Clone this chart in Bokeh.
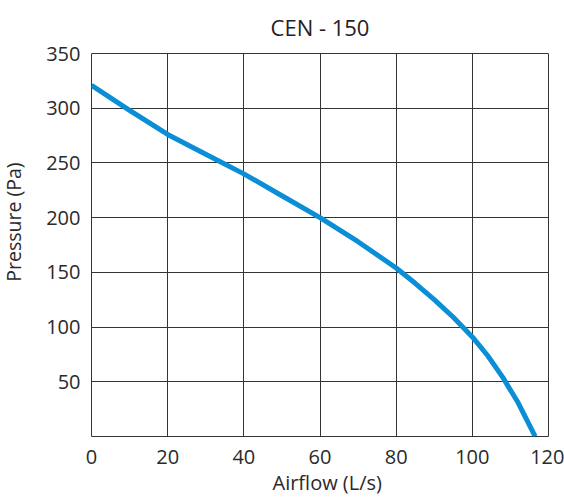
from bokeh.plotting import figure
from bokeh.models import Range1d, FixedTicker, Title
from bokeh.embed import file_html
from bokeh.resources import INLINE

title_text = "CEN - 150"
x_label = "Airflow (L/s)"
y_label = "Pressure (Pa)"
x_ticks = [0, 20, 40, 60, 80, 100, 120]
y_ticks = [50, 100, 150, 200, 250, 300, 350]

airflow = [0, 10, 20, 30, 40, 50, 60, 70, 80, 85, 90, 95, 100, 104, 108, 112, 116.5]
pressure = [321, 298, 276, 258, 240, 220, 200, 178, 154, 140, 125, 109, 91, 74, 54, 31, 0]

FONT = "Open Sans"
TXT = "#2a2a2a"

p = figure(width=564, height=499, output_backend="svg", toolbar_location=None,
           x_range=Range1d(0, 120), y_range=Range1d(0, 350),
           min_border_left=91, min_border_right=16, min_border_top=53, min_border_bottom=63)

p.outline_line_color = "#333333"
p.outline_line_width = 1
p.outline_line_alpha = 1

p.xaxis.ticker = FixedTicker(ticks=x_ticks)
p.yaxis.ticker = FixedTicker(ticks=y_ticks)
for ax in (p.xaxis, p.yaxis):
    ax.axis_line_color = None
    ax.major_tick_line_color = None
    ax.minor_tick_line_color = None
    ax.major_tick_in = 0
    ax.major_tick_out = 0
    ax.major_label_text_font = FONT
    ax.major_label_text_font_size = "20px"
    ax.major_label_text_color = TXT
p.xaxis.major_label_standoff = 13
p.yaxis.major_label_standoff = 11

# x axis title below the tick labels
p.add_layout(Title(text=x_label, align="left", offset=181, vertical_align="bottom", standoff=0.5,
                   text_font=FONT, text_font_size="20px", text_font_style="normal",
                   text_color=TXT), "below")

# spacing between the title and the frame
p.add_layout(Title(text=" ", text_font_size="1px", standoff=9), "above")
p.add_layout(Title(text=title_text, align="center", vertical_align="bottom", standoff=0,
                   text_font=FONT, text_font_size="22px", text_font_style="normal",
                   text_color="#222222"), "above")

# spacing between the y tick labels and the y title
p.add_layout(Title(text=" ", text_font_size="1px", standoff=18), "left")
p.add_layout(Title(text=y_label, align="right", offset=109, vertical_align="bottom", standoff=-8,
                   text_font=FONT, text_font_size="19.5px", text_font_style="normal",
                   text_color=TXT), "left")

p.xgrid.grid_line_color = "#333333"
p.ygrid.grid_line_color = "#333333"
p.xgrid.grid_line_alpha = 1
p.ygrid.grid_line_alpha = 1

p.line(airflow, pressure, line_color="#0a8ed6", line_width=5, line_join="round")

open("out.html", "w").write(file_html(p, INLINE))
